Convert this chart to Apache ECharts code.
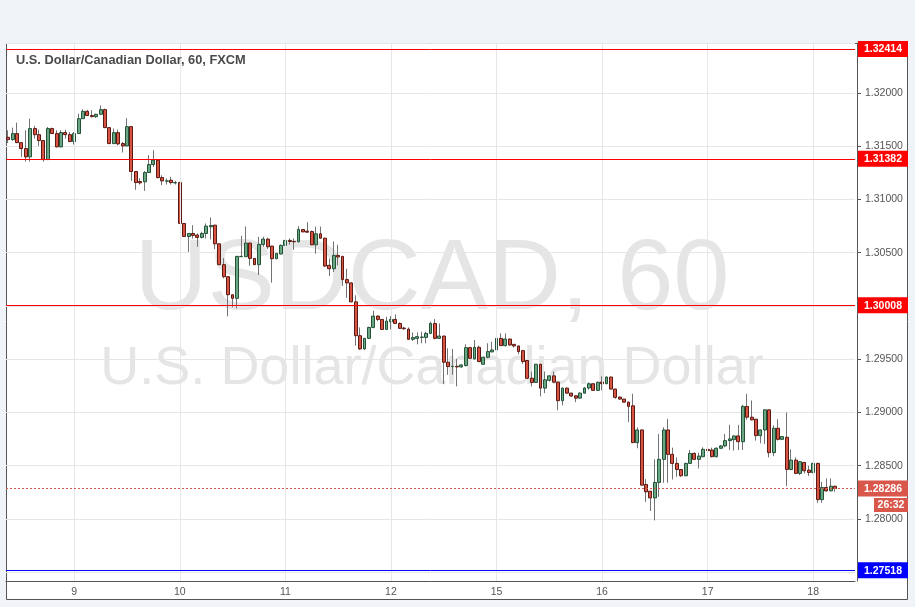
<!DOCTYPE html>
<html>
<head>
<meta charset="utf-8">
<script src="https://cdn.jsdelivr.net/npm/echarts@6.0.0/dist/echarts.min.js"></script>
<style>
html,body{margin:0;padding:0;background:#f0f3f8;}
#chart{width:915px;height:607px;}
</style>
</head>
<body>
<div id="chart"></div>
<script>
// ---- data ----
const sessionDays = ['8', '9', '10', '11', '12', '15', '16', '17', '18'];
const firstSessionHour = 9;
const totalSlots = 193;
// hourly candles: [open, high, low, close]
const ohlc = [
[1.31584,1.31650,1.31531,1.31563],[1.31563,1.31675,1.31550,1.31619],[1.31619,1.31722,1.31530,1.31534],
[1.31534,1.31540,1.31400,1.31478],[1.31478,1.31650,1.31356,1.31400],[1.31400,1.31759,1.31356,1.31666],
[1.31666,1.31691,1.31572,1.31609],[1.31609,1.31656,1.31503,1.31553],[1.31553,1.31560,1.31356,1.31375],
[1.31375,1.31681,1.31370,1.31666],[1.31666,1.31675,1.31615,1.31619],[1.31619,1.31650,1.31490,1.31494],
[1.31494,1.31650,1.31490,1.31628],[1.31628,1.31656,1.31572,1.31609],[1.31609,1.31634,1.31540,1.31544],
[1.31544,1.31634,1.31516,1.31619],[1.31619,1.31806,1.31615,1.31759],[1.31759,1.31847,1.31755,1.31828],
[1.31828,1.31841,1.31785,1.31788],[1.31788,1.31838,1.31772,1.31778],[1.31778,1.31806,1.31766,1.31800],
[1.31800,1.31884,1.31797,1.31844],[1.31844,1.31853,1.31670,1.31675],[1.31675,1.31680,1.31520,1.31525],
[1.31525,1.31666,1.31520,1.31628],[1.31628,1.31656,1.31509,1.31522],[1.31525,1.31541,1.31441,1.31503],
[1.31503,1.31763,1.31500,1.31684],[1.31684,1.31690,1.31175,1.31263],[1.31263,1.31265,1.31091,1.31159],
[1.31169,1.31200,1.31140,1.31156],[1.31166,1.31266,1.31081,1.31253],[1.31253,1.31416,1.31250,1.31328],
[1.31328,1.31463,1.31306,1.31369],[1.31369,1.31378,1.31197,1.31206],[1.31206,1.31228,1.31134,1.31175],
[1.31172,1.31197,1.31141,1.31175],[1.31181,1.31213,1.31141,1.31159],[1.31156,1.31175,1.31141,1.31159],
[1.31159,1.31166,1.30770,1.30775],[1.30775,1.30780,1.30650,1.30653],[1.30653,1.30685,1.30509,1.30681],
[1.30681,1.30759,1.30634,1.30663],[1.30666,1.30681,1.30556,1.30644],[1.30644,1.30697,1.30634,1.30681],
[1.30681,1.30775,1.30634,1.30750],[1.30744,1.30831,1.30625,1.30756],[1.30759,1.30762,1.30534,1.30584],
[1.30584,1.30584,1.30385,1.30388],[1.30388,1.30450,1.30259,1.30275],[1.30275,1.30275,1.29903,1.30106],
[1.30106,1.30106,1.29988,1.30072],[1.30072,1.30470,1.29978,1.30466],[1.30463,1.30659,1.30460,1.30466],
[1.30463,1.30747,1.30460,1.30591],[1.30591,1.30595,1.30378,1.30447],[1.30447,1.30450,1.30385,1.30388],
[1.30388,1.30650,1.30291,1.30578],[1.30578,1.30650,1.30556,1.30628],[1.30628,1.30641,1.30534,1.30556],
[1.30563,1.30565,1.30219,1.30444],[1.30444,1.30497,1.30440,1.30494],[1.30488,1.30578,1.30485,1.30569],
[1.30569,1.30666,1.30416,1.30616],[1.30616,1.30634,1.30575,1.30606],[1.30606,1.30634,1.30528,1.30603],
[1.30603,1.30750,1.30597,1.30719],[1.30718,1.30720,1.30693,1.30696],[1.30703,1.30787,1.30690,1.30693],
[1.30699,1.30709,1.30572,1.30575],[1.30575,1.30746,1.30491,1.30678],[1.30678,1.30746,1.30631,1.30637],
[1.30637,1.30640,1.30366,1.30375],[1.30382,1.30444,1.30282,1.30350],[1.30350,1.30606,1.30319,1.30475],
[1.30475,1.30575,1.30382,1.30460],[1.30466,1.30470,1.30188,1.30248],[1.30248,1.30350,1.30076,1.30217],
[1.30217,1.30220,1.30035,1.30039],[1.30039,1.30101,1.29628,1.29721],[1.29721,1.29799,1.29587,1.29597],
[1.29597,1.29700,1.29587,1.29696],[1.29696,1.29805,1.29693,1.29799],[1.29799,1.29955,1.29790,1.29905],
[1.29905,1.29914,1.29858,1.29874],[1.29874,1.29877,1.29774,1.29780],[1.29780,1.29899,1.29774,1.29858],
[1.29852,1.29905,1.29780,1.29874],[1.29874,1.29921,1.29833,1.29836],[1.29836,1.29846,1.29787,1.29790],
[1.29793,1.29805,1.29774,1.29787],[1.29783,1.29799,1.29680,1.29687],[1.29687,1.29752,1.29671,1.29703],
[1.29696,1.29752,1.29640,1.29712],[1.29705,1.29758,1.29650,1.29708],[1.29705,1.29758,1.29650,1.29743],
[1.29743,1.29852,1.29737,1.29836],[1.29836,1.29877,1.29687,1.29696],[1.29696,1.29836,1.29693,1.29718],
[1.29718,1.29720,1.29266,1.29472],[1.29472,1.29603,1.29354,1.29431],[1.29431,1.29597,1.29354,1.29434],
[1.29434,1.29503,1.29245,1.29428],[1.29428,1.29450,1.29420,1.29447],[1.29441,1.29640,1.29432,1.29609],
[1.29609,1.29612,1.29503,1.29509],[1.29503,1.29681,1.29500,1.29612],[1.29612,1.29628,1.29475,1.29478],
[1.29453,1.29522,1.29447,1.29519],[1.29519,1.29650,1.29509,1.29572],[1.29569,1.29665,1.29565,1.29587],
[1.29587,1.29749,1.29531,1.29696],[1.29696,1.29743,1.29625,1.29628],[1.29628,1.29743,1.29619,1.29690],
[1.29690,1.29693,1.29628,1.29634],[1.29640,1.29643,1.29609,1.29625],[1.29625,1.29628,1.29547,1.29572],
[1.29581,1.29587,1.29456,1.29478],[1.29488,1.29490,1.29315,1.29322],[1.29322,1.29385,1.29245,1.29282],
[1.29282,1.29456,1.29279,1.29453],[1.29453,1.29456,1.29151,1.29229],[1.29229,1.29385,1.29182,1.29307],
[1.29302,1.29350,1.29290,1.29344],[1.29344,1.29385,1.29275,1.29285],[1.29285,1.29290,1.29021,1.29111],
[1.29111,1.29235,1.29067,1.29229],[1.29229,1.29235,1.29175,1.29182],[1.29182,1.29185,1.29146,1.29155],
[1.29157,1.29160,1.29097,1.29135],[1.29135,1.29189,1.29129,1.29182],[1.29182,1.29239,1.29176,1.29230],
[1.29230,1.29283,1.29214,1.29270],[1.29270,1.29273,1.29205,1.29208],[1.29208,1.29292,1.29205,1.29283],
[1.29286,1.29340,1.29208,1.29270],[1.29270,1.29340,1.29267,1.29333],[1.29333,1.29336,1.29217,1.29220],
[1.29220,1.29223,1.29129,1.29142],[1.29145,1.29151,1.29120,1.29126],[1.29126,1.29129,1.29094,1.29097],
[1.29097,1.29104,1.28909,1.29057],[1.29063,1.29176,1.28714,1.28717],[1.28717,1.28860,1.28664,1.28836],
[1.28836,1.28840,1.28315,1.28318],[1.28324,1.28374,1.28160,1.28255],[1.28261,1.28264,1.28075,1.28198],
[1.28198,1.28560,1.27987,1.28343],[1.28343,1.28799,1.28208,1.28560],[1.28560,1.28862,1.28340,1.28836],
[1.28836,1.28940,1.28340,1.28607],[1.28607,1.28670,1.28371,1.28522],[1.28522,1.28579,1.28396,1.28465],
[1.28465,1.28468,1.28396,1.28406],[1.28406,1.28528,1.28403,1.28522],[1.28522,1.28648,1.28516,1.28616],
[1.28616,1.28626,1.28553,1.28560],[1.28560,1.28623,1.28475,1.28591],[1.28585,1.28673,1.28579,1.28654],
[1.28654,1.28742,1.28538,1.28642],[1.28648,1.28670,1.28579,1.28585],[1.28585,1.28673,1.28579,1.28664],
[1.28664,1.28695,1.28657,1.28686],[1.28686,1.28799,1.28673,1.28736],[1.28736,1.28884,1.28648,1.28752],
[1.28745,1.28783,1.28642,1.28780],[1.28780,1.28884,1.28648,1.28726],[1.28726,1.29072,1.28648,1.29057],
[1.29057,1.29176,1.28931,1.28956],[1.28956,1.29113,1.28925,1.28931],[1.28937,1.28940,1.28736,1.28783],
[1.28783,1.28840,1.28711,1.28836],[1.28836,1.29031,1.28704,1.29025],[1.29025,1.29028,1.28579,1.28623],
[1.28623,1.28880,1.28590,1.28852],[1.28852,1.28937,1.28736,1.28748],[1.28748,1.28777,1.28742,1.28774],
[1.28767,1.29000,1.28308,1.28465],[1.28465,1.28654,1.28459,1.28553],[1.28553,1.28579,1.28421,1.28428],
[1.28428,1.28541,1.28412,1.28538],[1.28531,1.28535,1.28428,1.28453],[1.28459,1.28500,1.28403,1.28437],
[1.28437,1.28528,1.28428,1.28522],[1.28522,1.28528,1.28151,1.28182],[1.28182,1.28349,1.28151,1.28296],
[1.28296,1.28381,1.28255,1.28264],[1.28264,1.28381,1.28261,1.28308],[1.28308,1.28311,1.28255,1.28286]
];
const resistanceLevels = [1.32414, 1.31382, 1.30008];
const supportLevels = [1.27518];
const lastPrice = 1.28286;
const barCountdown = '26:32';
const titleText = 'U.S. Dollar/Canadian Dollar, 60, FXCM';
const watermarkSymbol = 'USDCAD, 60';
const watermarkName = 'U.S. Dollar/Canadian Dollar';
const priceMin = 1.274178;
const priceMax = 1.324695;

// ---- build ----
const categories = [];
sessionDays.forEach(function (d, k) {
  for (let h = (k === 0 ? firstSessionHour : 0); h < 24 && categories.length < totalSlots; h++) {
    categories.push(d + ' ' + (h < 10 ? '0' : '') + h + ':00');
  }
});
const isDayStart = function (v) { return /\s00:00$/.test(v); };
const dayStarts = categories.filter(isDayStart);

const wickData = ohlc.map(function (r) { return [r[0], r[3], r[2], r[1]]; });
const bodyData = ohlc.map(function (r) { return [r[0], r[3], Math.min(r[0], r[3]), Math.max(r[0], r[3])]; });

const FONT = 'Arial, "Liberation Sans", sans-serif';
const UP = '#6ba583', DOWN = '#d75442', UP_B = '#225437', DOWN_B = '#5b1a13', WICK = '#737375';
const LAST = '#d9574a';

const chart = echarts.init(document.getElementById('chart'), null, {renderer: 'canvas'});

const option = {
  backgroundColor: '#f0f3f8',
  animation: false,
  tooltip: {show: false},
  grid: {left: 6, top: 43, width: 849, height: 538},
  xAxis: {
    type: 'category',
    data: categories,
    boundaryGap: true,
    axisLine: {show: true, lineStyle: {color: '#555', width: 1}},
    axisTick: {show: false},
    axisLabel: {
      interval: function (i, v) { return isDayStart(v); },
      formatter: function (v) { return v.split(' ')[0]; },
      color: '#555', fontSize: 10.5, fontFamily: FONT, margin: 6
    },
    splitLine: {show: false}
  },
  yAxis: {
    type: 'value',
    position: 'right',
    offset: 2,
    min: priceMin,
    max: priceMax,
    splitNumber: 10,
    axisLine: {show: true, lineStyle: {color: '#555', width: 1}},
    axisTick: {show: true, length: 4, lineStyle: {color: '#555'}},
    axisLabel: {
      color: '#555', fontSize: 10.5, fontFamily: FONT, margin: 8,
      showMinLabel: false, showMaxLabel: false,
      formatter: function (v) { return v.toFixed(5); }
    },
    splitLine: {show: true, lineStyle: {color: '#e6e6e6', width: 1}}
  },
  series: [
    {
      name: 'wick', type: 'candlestick', data: wickData, barWidth: 1, z: 2, silent: true,
      itemStyle: {color: WICK, color0: WICK, borderColor: WICK, borderColor0: WICK, borderWidth: 1},
      emphasis: {disabled: true},
      markLine: {
        silent: true, symbol: ['none', 'none'], label: {show: false}, precision: 6,
        lineStyle: {color: '#e6e6e6', width: 1, type: 'solid'},
        emphasis: {disabled: true},
        data: dayStarts.map(function (d) { return {xAxis: d}; })
      }
    },
    {
      name: 'body', type: 'candlestick', data: bodyData, barWidth: 3.4, z: 3, silent: true,
      itemStyle: {color: UP, color0: DOWN, borderColor: UP_B, borderColor0: DOWN_B, borderWidth: 1},
      emphasis: {disabled: true},
      markLine: {
        silent: true, symbol: ['none', 'none'], label: {show: false}, precision: 6,
        emphasis: {disabled: true},
        data: resistanceLevels.map(function (v) { return {yAxis: v, lineStyle: {color: '#ff0000', width: 1, type: 'solid'}}; })
          .concat(supportLevels.map(function (v) { return {yAxis: v, lineStyle: {color: '#0000ff', width: 1, type: 'solid'}}; }))
          .concat([{yAxis: lastPrice, lineStyle: {color: LAST, width: 1, type: [2, 2]}}])
      }
    }
  ]
};
chart.setOption(option);

// ---- decorations placed via axis conversion ----
const px = function (v) { return chart.convertToPixel({yAxisIndex: 0}, v); };
const gfx = [];
gfx.push({type: 'rect', z: -10, shape: {x: 6.5, y: 43.5, width: 901, height: 556}, style: {fill: '#ffffff', stroke: '#555555', lineWidth: 1}});
gfx.push({type: 'text', z: -5, x: 432, y: 281, style: {text: watermarkSymbol, fill: '#e5e5e5', font: '101px ' + FONT, align: 'center', verticalAlign: 'middle'}});
gfx.push({type: 'text', z: -5, x: 432, y: 369, style: {text: watermarkName, fill: '#e5e5e5', font: '54px ' + FONT, align: 'center', verticalAlign: 'middle'}});
gfx.push({type: 'text', z: 10, x: 16, y: 60, style: {text: titleText, fill: '#4a4a4a', font: 'bold 12.8px ' + FONT, align: 'left', verticalAlign: 'middle'}});

function priceBox(v, color) {
  const cy = px(v);
  gfx.push({type: 'rect', z: 20, shape: {x: 858, y: cy - 8, width: 50, height: 16}, style: {fill: color}});
  gfx.push({type: 'text', z: 21, x: 883, y: cy + 0.5, style: {text: v.toFixed(5), fill: '#ffffff', font: 'bold 10.5px ' + FONT, align: 'center', verticalAlign: 'middle'}});
}
resistanceLevels.forEach(function (v) { priceBox(v, '#ff0000'); });
supportLevels.forEach(function (v) { priceBox(v, '#0000ff'); });
priceBox(lastPrice, LAST);
(function () {
  const cy = px(lastPrice);
  gfx.push({type: 'rect', z: 20, shape: {x: 874, y: cy + 9.5, width: 34, height: 14}, style: {fill: LAST}});
  gfx.push({type: 'text', z: 21, x: 891, y: cy + 16.5, style: {text: barCountdown, fill: '#ffffff', font: 'bold 10.5px ' + FONT, align: 'center', verticalAlign: 'middle'}});
})();
chart.setOption({graphic: gfx});
</script>
</body>
</html>
